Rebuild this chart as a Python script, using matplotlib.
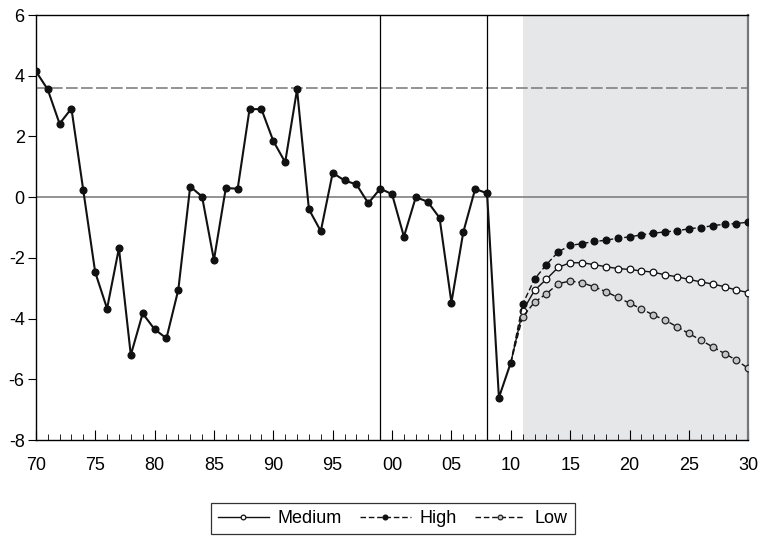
import numpy as np
import matplotlib.pyplot as plt
from matplotlib.ticker import MultipleLocator, FuncFormatter

plt.rcParams["font.family"] = ["Liberation Sans", "DejaVu Sans"]
plt.rcParams["axes.unicode_minus"] = False

hist_years = list(range(1970, 2011))
hist_values = [
    4.15, 3.55, 2.42, 2.92, 0.22, -2.47, -3.67, -1.68, -5.20, -3.83,
    -4.35, -4.65, -3.05, 0.35, 0.02, -2.07, 0.30, 0.28, 2.90, 2.90,
    1.85, 1.15, 3.55, -0.40, -1.12, 0.80, 0.55, 0.42, -0.20, 0.28,
    0.10, -1.30, 0.00, -0.15, -0.68, -3.47, -1.15, 0.27, 0.13, -6.60,
    -5.45,
]

proj_years = list(range(2010, 2031))
medium = [
    -5.45, -3.75, -3.07, -2.70, -2.31, -2.16, -2.16, -2.22, -2.29, -2.35,
    -2.38, -2.43, -2.47, -2.56, -2.62, -2.71, -2.79, -2.86, -2.95, -3.06,
    -3.14,
]
high = [
    -5.45, -3.52, -2.70, -2.22, -1.80, -1.59, -1.53, -1.46, -1.42, -1.35,
    -1.31, -1.24, -1.19, -1.14, -1.11, -1.04, -1.00, -0.94, -0.89, -0.87,
    -0.82,
]
low = [
    -5.45, -3.94, -3.46, -3.18, -2.85, -2.76, -2.82, -2.95, -3.11, -3.30,
    -3.49, -3.68, -3.88, -4.05, -4.27, -4.49, -4.71, -4.93, -5.15, -5.37,
    -5.64,
]

ref_level = 3.58
vlines = [1999, 2008]
shade_span = (2011, 2030)

fig = plt.figure(figsize=(7.62, 5.36), dpi=100)
ax = fig.add_axes([0.047, 0.179, 0.935, 0.793])

ax.axvspan(*shade_span, color="#e6e7e9", zorder=0, lw=0)
ax.axhline(0, color="#808080", lw=1.2, zorder=1)
ax.axhline(ref_level, color="#808080", lw=1.2, ls=(0, (7, 2)), zorder=1)
for v in vlines:
    ax.axvline(v, color="black", lw=0.9, zorder=1)

ax.plot(hist_years, hist_values, color="#111111", lw=1.5, marker="o",
        ms=4.8, zorder=3)
marks = list(range(1, len(proj_years)))
ax.plot(proj_years, medium, color="#111111", lw=1.0, marker="o", ms=4.8,
        mfc="white", mec="#111111", mew=0.9, markevery=marks,
        label="Medium", zorder=4)
ax.plot(proj_years, high, color="#111111", lw=1.0, ls=(0, (4, 2)),
        marker="o", ms=4.8, mfc="#111111", mec="#111111", markevery=marks,
        label="High", zorder=4)
ax.plot(proj_years, low, color="#111111", lw=1.0, ls=(0, (4, 2)),
        marker="o", ms=4.8, mfc="#c4c4c4", mec="#222222", mew=0.9,
        markevery=marks, label="Low", zorder=4)

ax.set_xlim(1970, 2030)
ax.set_ylim(-8, 6)
ax.xaxis.set_major_locator(MultipleLocator(5))
ax.xaxis.set_minor_locator(MultipleLocator(1))
ax.yaxis.set_major_locator(MultipleLocator(2))
ax.xaxis.set_major_formatter(FuncFormatter(lambda v, p: "%02d" % (int(round(v)) % 100)))
ax.tick_params(axis="x", which="major", direction="in", length=7,
               labelsize=13, pad=12)
ax.tick_params(axis="x", which="minor", direction="in", length=4)
ax.tick_params(axis="y", direction="out", length=6, labelsize=13, pad=2)
for s in ax.spines.values():
    s.set_linewidth(1.0)
ax.spines["right"].set_color("#777777")
ax.spines["right"].set_linewidth(1.6)

leg = ax.legend(loc="upper center", bbox_to_anchor=(0.501, -0.148), ncol=3,
                frameon=True, fancybox=False, edgecolor="black",
                fontsize=13, handlelength=2.8, columnspacing=1.0,
                handletextpad=0.5, borderpad=0.4, borderaxespad=0,
                markerscale=0.7)
leg.get_frame().set_linewidth(0.9)

fig.savefig("out.png", dpi=100)
